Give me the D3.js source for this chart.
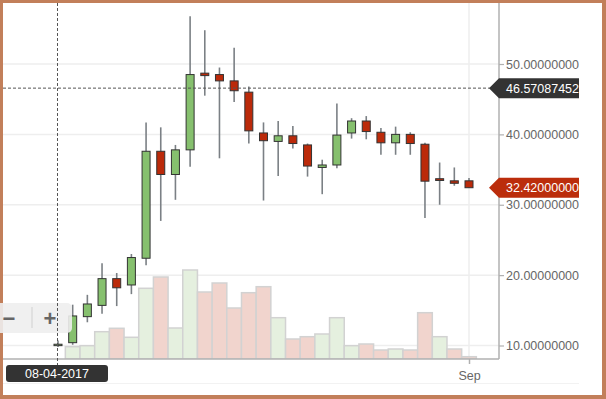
<!DOCTYPE html>
<html>
<head>
<meta charset="utf-8">
<script src="https://cdn.jsdelivr.net/npm/d3@7"></script>
<style>
  body { margin: 0; background: #fff; }
  svg { display: block; font-family: "Liberation Sans", Arial, sans-serif; }
</style>
</head>
<body>
<div id="chart"></div>
<script>
// daily candles, 4 Aug - 1 Sep 2017
const days = [
  "2017-08-04", "2017-08-05", "2017-08-06", "2017-08-07", "2017-08-08", "2017-08-09",
  "2017-08-10", "2017-08-11", "2017-08-12", "2017-08-13", "2017-08-14", "2017-08-15",
  "2017-08-16", "2017-08-17", "2017-08-18", "2017-08-19", "2017-08-20", "2017-08-21",
  "2017-08-22", "2017-08-23", "2017-08-24", "2017-08-25", "2017-08-26", "2017-08-27",
  "2017-08-28", "2017-08-29", "2017-08-30", "2017-08-31", "2017-09-01"
];
const open = [9.98, 10.4, 14.1, 15.7, 19.5, 18.6, 22.4, 37.6, 34.3, 37.8, 48.7, 48.5,
  47.6, 46.0, 40.2, 39.0, 39.8, 38.5, 35.3, 35.65, 40.2, 41.9, 40.3, 38.8, 40.0, 38.6,
  33.7, 33.4, 33.4];
const high = [10.7, 15.8, 17.2, 21.7, 20.3, 23.0, 41.7, 41.0, 38.5, 56.8, 54.8, 49.5,
  52.3, 46.8, 41.7, 41.9, 41.2, 38.7, 36.4, 44.4, 42.3, 42.6, 40.9, 41.1, 40.3, 38.8,
  36.0, 35.3, 33.8];
const low = [9.8, 10.1, 13.3, 14.5, 15.6, 17.3, 21.4, 27.7, 30.7, 35.4, 45.5, 36.6,
  44.6, 38.7, 30.6, 34.1, 38.0, 34.0, 31.5, 35.2, 39.4, 39.3, 37.1, 37.1, 37.1, 28.1,
  30.0, 32.7, 32.42];
const close = [10.18, 14.2, 15.9, 19.5, 18.2, 22.5, 37.6, 34.3, 37.8, 48.5, 48.35, 47.6,
  46.2, 40.5, 39.1, 39.8, 38.7, 35.5, 35.65, 39.9, 41.9, 40.4, 38.8, 40.0, 38.7, 33.35,
  33.45, 33.05, 32.42];
const volume = [0, 12.3, 13.3, 27.3, 30.7, 21.7, 70.7, 82, 31, 89, 67, 76, 51, 66.3,
  72.3, 41.3, 20, 22.3, 25, 41.3, 13.3, 15, 9, 10, 9, 46.3, 22.3, 10, 2.3];

const priceTicks = [10, 20, 30, 40, 50];
const crossValue = 46.57087452;
const crossDay = "2017-08-04";
const lastValue = 32.42;

const W = 606, H = 399;
const parse = d3.utcParse("%Y-%m-%d");
const fmtPrice = (v) => v.toFixed(8);

const data = days.map((d, i) => ({
  date: parse(d), o: open[i], h: high[i], l: low[i], c: close[i], v: volume[i],
  up: close[i] >= open[i],
  volUp: i === 0 ? true : close[i] >= close[i - 1]
}));

// plot frame
const plot = { left: 3, right: 499, top: 3, bottom: 359 };

const x = d3.scaleUtc()
  .domain([parse("2017-08-04"), parse("2017-09-01")])
  .range([58, 469]);
const step = x(parse("2017-08-05")) - x(parse("2017-08-04"));

const y = d3.scaleLinear().domain([10, 50]).range([345.5, 64]);
const yVol = d3.scaleLinear().domain([0, 100]).range([plot.bottom, plot.bottom - 100]);

const svg = d3.select("#chart").append("svg")
  .attr("width", W).attr("height", H);

// brown frame
svg.append("rect").attr("width", W).attr("height", H).attr("fill", "#c27f5a");
svg.append("rect").attr("x", 3).attr("y", 3).attr("width", 599).attr("height", 392)
  .attr("fill", "#fff");

svg.append("clipPath").attr("id", "plotclip").append("rect")
  .attr("x", plot.left).attr("y", plot.top)
  .attr("width", plot.right - plot.left).attr("height", plot.bottom - plot.top);
svg.append("clipPath").attr("id", "rightclip").append("rect")
  .attr("x", 0).attr("y", 0).attr("width", 579).attr("height", H);

// gridlines
svg.append("g").selectAll("line").data(priceTicks).enter().append("line")
  .attr("x1", plot.left).attr("x2", plot.right)
  .attr("y1", (d) => y(d)).attr("y2", (d) => y(d))
  .attr("stroke", "#eeeeee").attr("stroke-width", 1.5);
svg.append("line")
  .attr("x1", x(parse("2017-09-01"))).attr("x2", x(parse("2017-09-01")))
  .attr("y1", plot.top).attr("y2", plot.bottom)
  .attr("stroke", "#eeeeee").attr("stroke-width", 1.5);

// faint navigator line
svg.append("line").attr("x1", 3).attr("x2", 579).attr("y1", 383.5).attr("y2", 383.5)
  .attr("stroke", "#f2f2f2");

const g = svg.append("g").attr("clip-path", "url(#plotclip)");

// volume bars
g.append("g").selectAll("rect").data(data.filter((d) => d.v > 0)).enter().append("rect")
  .attr("x", (d) => x(d.date) - step / 2)
  .attr("width", step)
  .attr("y", (d) => yVol(d.v))
  .attr("height", (d) => plot.bottom - yVol(d.v))
  .attr("fill", (d) => (d.volUp ? "#e5f0df" : "#f1d4cd"))
  .attr("stroke", "#d2d2d2")
  .attr("stroke-width", 1.5);

// zoom buttons
const zb = svg.append("g");
zb.append("rect").attr("x", -10).attr("y", 303).attr("width", 82).attr("height", 30)
  .attr("rx", 5).attr("fill", "#eeeeee").attr("opacity", 0.9);
zb.append("line").attr("x1", 32).attr("x2", 32).attr("y1", 307).attr("y2", 328)
  .attr("stroke", "#d0d0d0");
zb.append("text").attr("x", 9).attr("y", 318).attr("dy", "0.35em")
  .attr("text-anchor", "middle").attr("font-size", 22).attr("font-weight", "bold")
  .attr("fill", "#666").text("\u2212");
zb.append("text").attr("x", 50).attr("y", 318).attr("dy", "0.35em")
  .attr("text-anchor", "middle").attr("font-size", 22).attr("font-weight", "bold")
  .attr("fill", "#666").text("+");

// candles
const candles = g.append("g").selectAll("g").data(data).enter().append("g");
candles.append("line")
  .attr("x1", (d) => x(d.date)).attr("x2", (d) => x(d.date))
  .attr("y1", (d) => y(d.h)).attr("y2", (d) => y(d.l))
  .attr("stroke", "#7b8085").attr("stroke-width", 1.6);
candles.append("rect")
  .attr("x", (d) => x(d.date) - 4)
  .attr("width", 8)
  .attr("y", (d) => y(Math.max(d.o, d.c)))
  .attr("height", (d) => Math.max(1, Math.abs(y(d.o) - y(d.c))))
  .attr("fill", (d) => (d.up ? "#86c06e" : "#bb2a0a"))
  .attr("stroke", "#333")
  .attr("stroke-width", 1);

// x axis
svg.append("line").attr("x1", plot.left).attr("x2", plot.right)
  .attr("y1", plot.bottom).attr("y2", plot.bottom)
  .attr("stroke", "#b0b0b0").attr("stroke-width", 1.5);
const xAxis = svg.append("g")
  .attr("transform", `translate(0,${plot.bottom})`)
  .call(d3.axisBottom(x).tickValues([parse("2017-09-01")])
    .tickFormat(d3.utcFormat("%b")).tickSize(5).tickSizeOuter(0));
xAxis.select(".domain").remove();
xAxis.selectAll("line").attr("stroke", "#b0b0b0").attr("stroke-width", 1.5);
xAxis.selectAll("text").attr("fill", "#666").attr("font-size", 12.5)
  .attr("font-family", "Liberation Sans, Arial, sans-serif").attr("dy", "1.05em");

// y axis on the right
svg.append("line").attr("x1", plot.right).attr("x2", plot.right)
  .attr("y1", plot.top).attr("y2", plot.bottom)
  .attr("stroke", "#b0b0b0").attr("stroke-width", 1.5);
const right = svg.append("g").attr("clip-path", "url(#rightclip)");
const yAxis = right.append("g")
  .attr("transform", `translate(${plot.right},0)`)
  .call(d3.axisRight(y).tickValues(priceTicks).tickFormat(fmtPrice)
    .tickSize(5).tickPadding(2));
yAxis.select(".domain").remove();
yAxis.selectAll("line").attr("stroke", "#b0b0b0").attr("stroke-width", 1.2);
yAxis.selectAll("text").attr("fill", "#666").attr("font-size", 12.5)
  .attr("font-family", "Liberation Sans, Arial, sans-serif");

// crosshair
const cx = x(parse(crossDay)) - 0.5;
const cy = y(crossValue);
svg.append("line").attr("x1", cx).attr("x2", cx).attr("y1", plot.top).attr("y2", 366)
  .attr("stroke", "#555").attr("stroke-dasharray", "3,2").attr("stroke-width", 1);
svg.append("line").attr("x1", plot.left).attr("x2", 490).attr("y1", cy).attr("y2", cy)
  .attr("stroke", "#555").attr("stroke-dasharray", "3,2").attr("stroke-width", 1);

// price tags
function tag(value, fill) {
  const yc = y(value);
  right.append("path")
    .attr("d", `M489,${yc} L499,${yc - 10} L600,${yc - 10} L600,${yc + 10} L499,${yc + 10} Z`)
    .attr("fill", fill);
  right.append("text").attr("x", 506).attr("y", yc).attr("dy", "0.35em")
    .attr("fill", "#fff").attr("font-size", 12.5).text(fmtPrice(value));
}
tag(crossValue, "#333333");
tag(lastValue, "#bb2d0c");

// date label under the crosshair
svg.append("rect").attr("x", 6).attr("y", 365).attr("width", 102).attr("height", 17)
  .attr("rx", 3).attr("fill", "#333");
svg.append("text").attr("x", 57).attr("y", 373.5).attr("dy", "0.35em")
  .attr("text-anchor", "middle").attr("fill", "#fff").attr("font-size", 12.5)
  .text(d3.utcFormat("%m-%d-%Y")(parse(crossDay)));
</script>
</body>
</html>
